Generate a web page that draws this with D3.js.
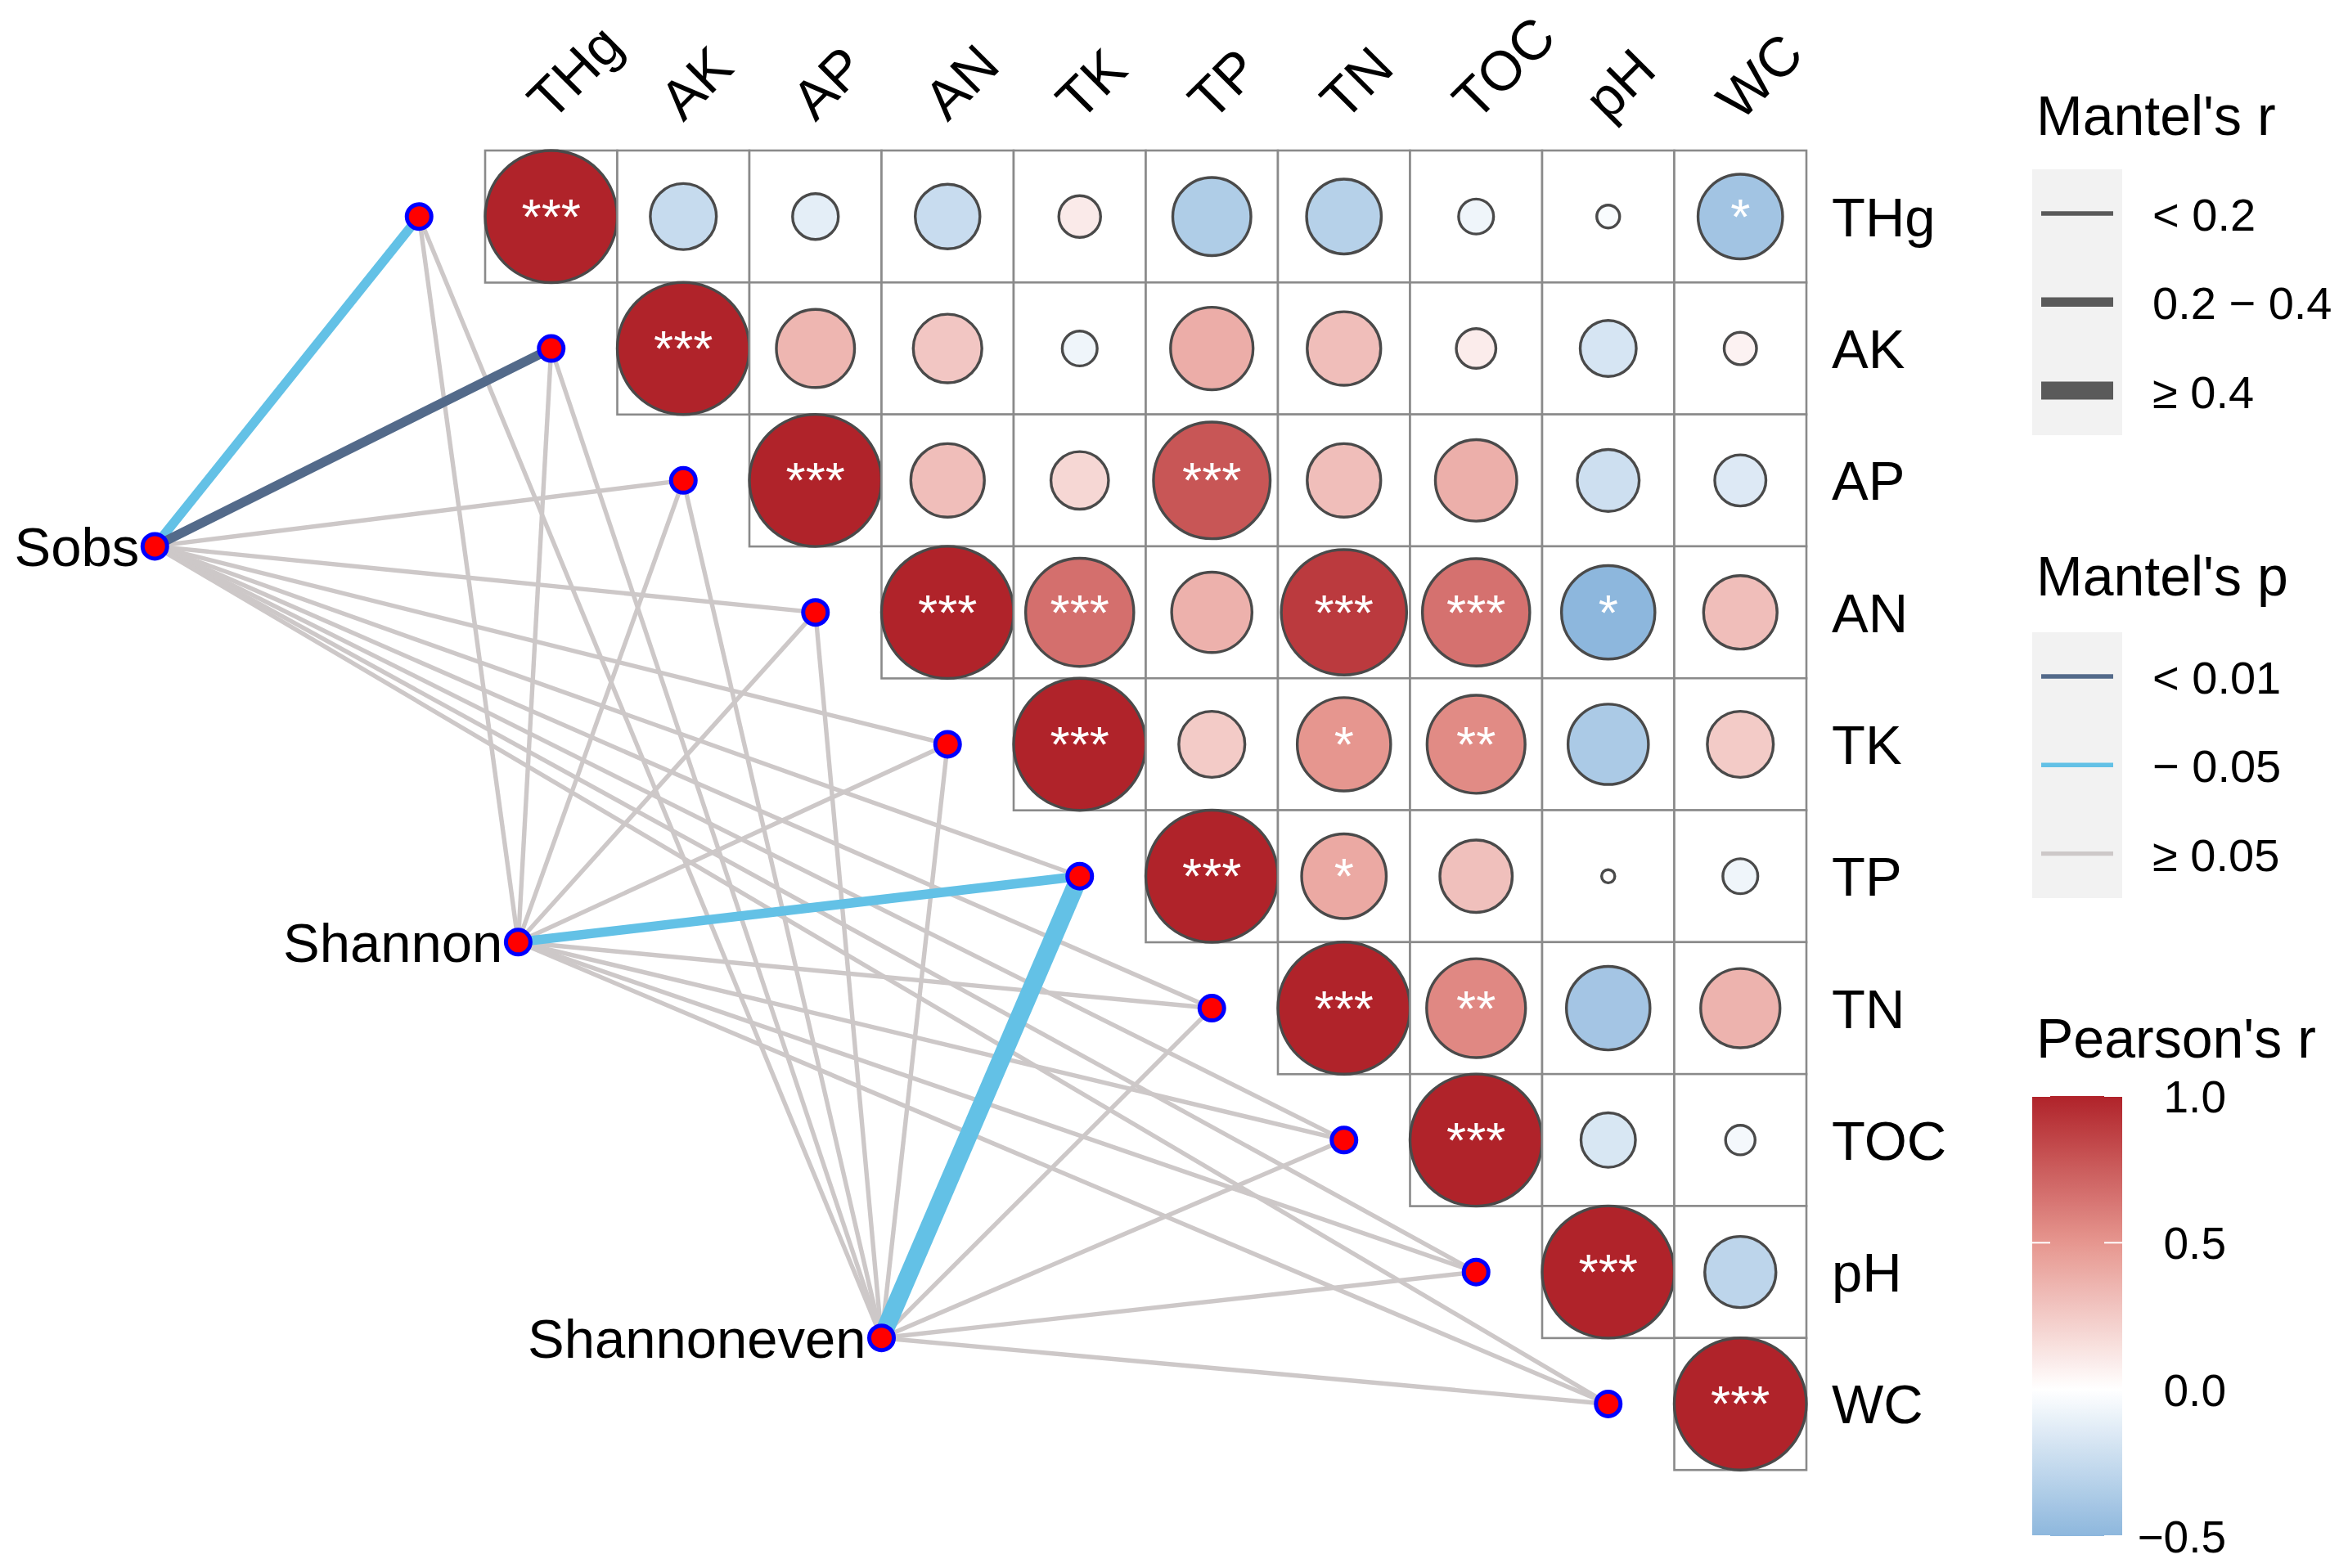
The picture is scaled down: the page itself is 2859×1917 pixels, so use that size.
<!DOCTYPE html>
<html>
<head>
<meta charset="utf-8">
<script src="https://cdnjs.cloudflare.com/ajax/libs/d3/7.8.5/d3.min.js"></script>
<style>
body{margin:0;background:#ffffff;}
text{font-family:"Liberation Sans",Arial,Helvetica,sans-serif;}
</style>
</head>
<body>
<svg id="chart"></svg>
<script>
// environmental variables (matrix rows / columns)
var envVars = ["THg","AK","AP","AN","TK","TP","TN","TOC","pH","WC"];

// Pearson's r, upper triangle, each row starts at the diagonal
var rTHg = [1.00,-0.25,-0.12,-0.24, 0.10,-0.35,-0.32,-0.07,-0.03,-0.41];
var rAK  = [1.00, 0.35, 0.27,-0.07, 0.39, 0.31, 0.09,-0.18, 0.06];
var rAP  = [1.00, 0.31, 0.19, 0.78, 0.31, 0.38,-0.22,-0.15];
var rAN  = [1.00, 0.67, 0.37, 0.90, 0.66,-0.50, 0.31];
var rTK  = [1.00, 0.25, 0.50, 0.55,-0.37, 0.25];
var rTP  = [1.00, 0.41, 0.30, 0.01,-0.07];
var rTN  = [1.00, 0.56,-0.40, 0.36];
var rTOC = [1.00,-0.17,-0.05];
var rpH  = [1.00,-0.29];
var rWC  = [1.00];

// significance marks, same layout
var sTHg = ["***","","","","","","","","","*"];
var sAK  = ["***","","","","","","","",""];
var sAP  = ["***","","","***","","","",""];
var sAN  = ["***","***","","***","***","*",""];
var sTK  = ["***","","*","**","",""];
var sTP  = ["***","*","","",""];
var sTN  = ["***","**","",""];
var sTOC = ["***","",""];
var spH  = ["***",""];
var sWC  = ["***"];

// Mantel test: species groups and classes per env variable
var species = ["Sobs","Shannon","Shannoneven"];
var speciesGX = [-2.5, 0.25, 3.0];   // anchor position in grid units
var speciesGY = [3.0, 6.0, 9.0];
// r class: 0 "< 0.2", 1 "0.2 - 0.4", 2 ">= 0.4"
var sobsRClass  = [1,1,0,0,0,0,0,0,0,0];
var shanRClass  = [0,0,0,0,0,1,0,0,0,0];
var evenRClass  = [0,0,0,0,0,2,0,0,0,0];
// p class: 0 "< 0.01", 1 "- 0.05", 2 ">= 0.05"
var sobsPClass  = [1,0,2,2,2,2,2,2,2,2];
var shanPClass  = [2,2,2,2,2,1,2,2,2,2];
var evenPClass  = [2,2,2,2,2,1,2,2,2,2];

// legends
var rLabels = ["< 0.2","0.2 \u2212 0.4","\u2265 0.4"];
var pLabels = ["< 0.01","\u2212 0.05","\u2265 0.05"];
var cbBreaks = [1.0,0.5,0.0,-0.5];
var cbLabels = ["1.0","0.5","0.0","\u22120.5"];

var drawGraph = function()
{
  var screen = {width:2859, height:1917};

  var svg = d3.select("#chart")
              .attr("width",screen.width)
              .attr("height",screen.height);

  svg.append("rect").attr("width",screen.width).attr("height",screen.height).attr("fill","#ffffff");

  var grid = {left:593, top:184, right:2208, bottom:1797};

  var xScale = d3.scaleBand().domain(envVars).range([grid.left,grid.right]);
  var yScale = d3.scaleBand().domain(envVars).range([grid.top,grid.bottom]);
  var bw = xScale.bandwidth();
  var gx = d3.scaleLinear().domain([0,10]).range([grid.left,grid.right]);
  var gy = d3.scaleLinear().domain([0,10]).range([grid.top,grid.bottom]);

  var rScale = d3.scaleSqrt().domain([0,1]).range([0,bw/2]);
  var colors = d3.scaleLinear()
                 .domain([-0.5,0,0.5,1])
                 .range(["#8DB7DD","#FFFFFF","#E6968F","#B0232A"])
                 .interpolate(d3.interpolateRgb);

  var rRows = [rTHg,rAK,rAP,rAN,rTK,rTP,rTN,rTOC,rpH,rWC];
  var sRows = [sTHg,sAK,sAP,sAN,sTK,sTP,sTN,sTOC,spH,sWC];
  var cells = [];
  rRows.forEach(function(row,i)
  {
    row.forEach(function(v,k)
    {
      cells.push({row:envVars[i], col:envVars[i+k], r:v, sig:sRows[i][k]});
    });
  });

  // ---- mantel links ----
  var rClasses = [sobsRClass,shanRClass,evenRClass];
  var pClasses = [sobsPClass,shanPClass,evenPClass];
  var widthScale = d3.scaleOrdinal().domain([0,1,2]).range([5.4,11.5,22]);
  var pColor = d3.scaleOrdinal().domain([0,1,2]).range(["#536A8A","#63C1E6","#CDC8C8"]);

  var envNodes = envVars.map(function(v,i)
  {
    return {name:v, x:xScale(v)-bw/2, y:yScale(v)+bw/2};
  });
  var spNodes = species.map(function(s,i)
  {
    return {name:s, x:gx(speciesGX[i]), y:gy(speciesGY[i])};
  });

  var links = [];
  species.forEach(function(s,i)
  {
    envVars.forEach(function(v,j)
    {
      links.push({from:spNodes[i], to:envNodes[j], rc:rClasses[i][j], pc:pClasses[i][j]});
    });
  });
  links.sort(function(a,b){return b.pc - a.pc;});

  svg.append("g").selectAll("line")
     .data(links)
     .enter()
     .append("line")
     .attr("x1",function(d){return d.from.x;})
     .attr("y1",function(d){return d.from.y;})
     .attr("x2",function(d){return d.to.x;})
     .attr("y2",function(d){return d.to.y;})
     .attr("stroke",function(d){return pColor(d.pc);})
     .attr("stroke-width",function(d){return widthScale(d.rc);});

  // ---- correlation matrix ----
  var cellG = svg.append("g").selectAll("g")
                 .data(cells)
                 .enter()
                 .append("g")
                 .attr("transform",function(d){return "translate("+xScale(d.col)+","+yScale(d.row)+")";});

  cellG.append("rect")
       .attr("width",bw)
       .attr("height",bw)
       .attr("fill","#ffffff")
       .attr("stroke","#8A8A8A")
       .attr("stroke-width",2.6);

  cellG.append("circle")
       .attr("cx",bw/2)
       .attr("cy",bw/2)
       .attr("r",function(d){return rScale(Math.abs(d.r));})
       .attr("fill",function(d){return colors(d.r);})
       .attr("stroke","#4A4A4A")
       .attr("stroke-width",3.4);

  cellG.append("text")
       .attr("x",bw/2)
       .attr("y",bw/2+21)
       .attr("text-anchor","middle")
       .attr("font-size",62)
       .attr("fill","#ffffff")
       .text(function(d){return d.sig;});

  // nodes
  svg.append("g").selectAll("circle")
     .data(envNodes.concat(spNodes))
     .enter()
     .append("circle")
     .attr("cx",function(d){return d.x;})
     .attr("cy",function(d){return d.y;})
     .attr("r",15)
     .attr("fill","#FF0000")
     .attr("stroke","#0000FF")
     .attr("stroke-width",5);

  // species labels
  svg.append("g").selectAll("text")
     .data(spNodes)
     .enter()
     .append("text")
     .attr("x",function(d){return d.x-19;})
     .attr("y",function(d){return d.y+24;})
     .attr("text-anchor","end")
     .attr("font-size",67)
     .text(function(d){return d.name;});

  // top labels
  svg.append("g").selectAll("text")
     .data(envVars)
     .enter()
     .append("text")
     .attr("transform",function(d){return "translate("+(xScale(d)+bw/2)+",150) rotate(-45)";})
     .attr("font-size",68)
     .text(function(d){return d;});

  // right labels
  svg.append("g").selectAll("text")
     .data(envVars)
     .enter()
     .append("text")
     .attr("x",grid.right+31)
     .attr("y",function(d){return yScale(d)+bw/2+24;})
     .attr("font-size",67)
     .text(function(d){return d;});

  // ---- legends ----
  var lg = svg.append("g");
  var keyX = 2484, keyW = 110;

  var drawKeys = function(title, titleY, boxTop, labels, strokeFn, widthFn)
  {
    lg.append("text").attr("x",2489).attr("y",titleY).attr("font-size",68).text(title);
    lg.append("rect").attr("x",keyX).attr("y",boxTop).attr("width",keyW).attr("height",325).attr("fill","#F2F2F2");
    var keys = lg.append("g").selectAll("g")
                 .data(labels)
                 .enter()
                 .append("g")
                 .attr("transform",function(d,i){return "translate(0,"+(boxTop+54+i*108.3)+")";});
    keys.append("line")
        .attr("x1",keyX+11).attr("x2",keyX+keyW-11)
        .attr("stroke",function(d,i){return strokeFn(i);})
        .attr("stroke-width",function(d,i){return widthFn(i);});
    keys.append("text")
        .attr("x",2631)
        .attr("y",21)
        .attr("font-size",56)
        .text(function(d){return d;});
  };

  drawKeys("Mantel's r",165,207,rLabels,function(){return "#5A5A5A";},function(i){return widthScale(i);});
  drawKeys("Mantel's p",728,773,pLabels,function(i){return pColor(i);},function(){return 5.4;});

  // colorbar
  lg.append("text").attr("x",2489).attr("y",1293).attr("font-size",68).text("Pearson's r");
  var cbScale = d3.scaleLinear().domain([-0.5,1.0]).range([1878,1340]);
  var grad = svg.append("defs").append("linearGradient")
                .attr("id","cbGrad")
                .attr("x1",0).attr("y1",1).attr("x2",0).attr("y2",0);
  d3.range(0,31).forEach(function(k)
  {
    var v = -0.5 + k*0.05;
    grad.append("stop").attr("offset",(k/30*100)+"%").attr("stop-color",colors(v));
  });
  lg.append("rect")
    .attr("x",keyX).attr("y",cbScale(1.0))
    .attr("width",keyW).attr("height",cbScale(-0.5)-cbScale(1.0))
    .attr("fill","url(#cbGrad)");

  var ticks = lg.append("g").selectAll("g")
                .data(cbBreaks)
                .enter()
                .append("g")
                .attr("transform",function(d){return "translate(0,"+cbScale(d)+")";});
  ticks.append("line").attr("x1",keyX).attr("x2",keyX+22).attr("stroke","#ffffff").attr("stroke-width",2);
  ticks.append("line").attr("x1",keyX+keyW-22).attr("x2",keyX+keyW).attr("stroke","#ffffff").attr("stroke-width",2);
  ticks.append("text")
       .attr("x",2721)
       .attr("y",20)
       .attr("text-anchor","end")
       .attr("font-size",55)
       .text(function(d,i){return cbLabels[i];});
};

drawGraph();
</script>
</body>
</html>
